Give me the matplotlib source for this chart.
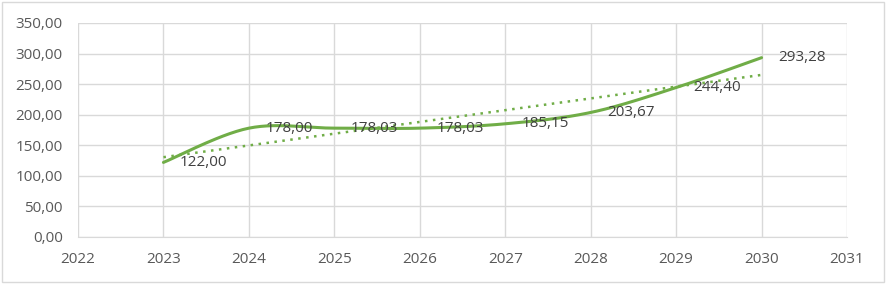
import numpy as np
import matplotlib
matplotlib.use("Agg")
import matplotlib.pyplot as plt
from matplotlib.patches import FancyBboxPatch

years = [2023, 2024, 2025, 2026, 2027, 2028, 2029, 2030]
values = [122.00, 178.00, 178.03, 178.03, 185.15, 203.67, 244.40, 293.28]
labels = ["122,00", "178,00", "178,03", "178,03", "185,15", "203,67", "244,40", "293,28"]
x_ticks = list(range(2022, 2032))
y_ticks = [0, 50, 100, 150, 200, 250, 300, 350]

GREEN = "#70AD47"
GRID = "#D9D9D9"
TXT = "#595959"
LBL = "#404040"

plt.rcParams['font.family'] = ['Open Sans', 'DejaVu Sans']

def smooth(xs, ys, n=30):
    xs = np.asarray(xs, float); ys = np.asarray(ys, float)
    P = np.column_stack([xs, ys])
    P = np.vstack([P[0], P, P[-1]])
    out = []
    t = np.linspace(0, 1, n)
    for i in range(1, len(P) - 2):
        p0, p1, p2, p3 = P[i-1], P[i], P[i+1], P[i+2]
        c1 = p1 + (p2 - p0) / 6.0
        c2 = p2 - (p3 - p1) / 6.0
        seg = ((1-t)**3)[:, None]*p1 + (3*(1-t)**2*t)[:, None]*c1 + (3*(1-t)*t**2)[:, None]*c2 + (t**3)[:, None]*p2
        out.append(seg if i == 1 else seg[1:])
    S = np.vstack(out)
    return S[:, 0], S[:, 1]

fig = plt.figure(figsize=(8.86, 2.84), dpi=100)
ax = fig.add_axes([78/886, 1-237/284, (847-78)/886, (237-23)/284])

for xv in x_ticks:
    ax.axvline(xv, color=GRID, lw=1, zorder=0)
for yv in y_ticks:
    ax.axhline(yv, color=GRID, lw=1, zorder=0)

sx, sy = smooth(years, values)
ax.plot(sx, sy, color=GREEN, lw=2.2, solid_capstyle='round', zorder=3)

coef = np.polyfit(years, values, 1)
tx = np.array([years[0], years[-1]])
ax.plot(tx, np.polyval(coef, tx), color=GREEN, lw=1.8, linestyle=(0, (1, 2.2)), zorder=2)

for xv, yv, lab in zip(years, values, labels):
    ax.annotate(lab, (xv, yv), xytext=(12, 0), textcoords='offset points',
                ha='left', va='center', fontsize=11, color=LBL, zorder=4)

ax.set_xlim(2022, 2031)
ax.set_ylim(0, 350)
ax.set_xticks(x_ticks)
ax.set_xticklabels([str(v) for v in x_ticks])
ax.set_yticks(y_ticks)
ax.set_yticklabels([f"{v:.2f}".replace('.', ',') for v in y_ticks])
ax.tick_params(length=0, labelsize=11, labelcolor=TXT)
ax.tick_params(axis='y', pad=11)
ax.tick_params(axis='x', pad=11)
for s in ['top', 'right', 'left']:
    ax.spines[s].set_visible(False)
ax.spines['bottom'].set_color(GRID)

border = FancyBboxPatch((2/886, 2/284), 1-4/886, 1-4/284, boxstyle="square,pad=0",
                        transform=fig.transFigure, fill=False, edgecolor="#D9D9D9", lw=1)
fig.patches.append(border)

fig.savefig("out.png", dpi=100)
